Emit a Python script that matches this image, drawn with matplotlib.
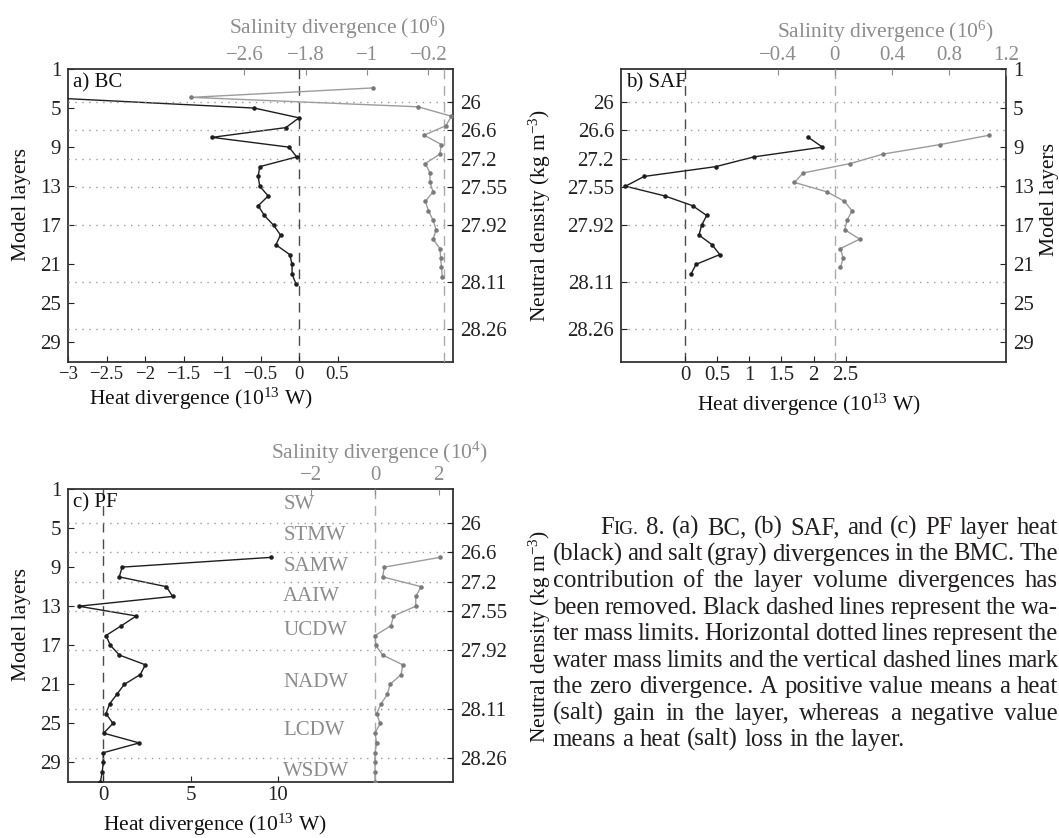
import matplotlib
matplotlib.use("Agg")
import matplotlib.pyplot as plt

plt.rcParams['font.family'] = ['Liberation Serif', 'DejaVu Serif']
plt.rcParams['mathtext.fontset'] = 'custom'
plt.rcParams['mathtext.rm'] = 'Liberation Serif'
plt.rcParams['mathtext.it'] = 'Liberation Serif:italic'
plt.rcParams['axes.unicode_minus'] = True

# ---------------- data ----------------
layer_ticks = [1, 5, 9, 13, 17, 21, 25, 29]
density_pos = [4.5, 7.5, 10.5, 13.5, 17.5, 23.5, 28.5]
density_labels = ['26', '26.6', '27.2', '27.55', '27.92', '28.11', '28.26']

# a) BC
bc_heat_layers = list(range(4, 24))
bc_heat = [-3.1, -0.58, 0.0, -0.17, -1.13, -0.13, -0.03, -0.51, -0.53, -0.51,
           -0.40, -0.53, -0.45, -0.33, -0.24, -0.30, -0.12, -0.09, -0.09, -0.04]
bc_salt_layers = list(range(3, 24))
bc_salt = [-0.92, -3.29, -0.335, 0.10, 0.026, -0.256, -0.03, -0.052, -0.24, -0.18,
           -0.18, -0.14, -0.24, -0.20, -0.14, -0.10, -0.14, -0.05, -0.04, -0.03, -0.02]

# b) SAF
saf_heat_layers = list(range(8, 23))
saf_heat = [1.92, 2.14, 1.07, 0.475, -0.64, -0.93, -0.315, 0.117, 0.335, 0.257,
            0.215, 0.42, 0.54, 0.17, 0.09]
saf_salt_layers = list(range(8, 23))
saf_salt = [1.084, 0.736, 0.338, 0.109, -0.223, -0.284, -0.055, 0.067, 0.12, 0.086,
            0.069, 0.174, 0.039, 0.058, 0.039]

# c) PF
pf_heat_layers = list(range(8, 32))
pf_heat = [9.6, 1.09, 0.93, 3.62, 3.98, -1.39, 1.90, 1.05, 0.17, 0.42, 0.93, 2.42,
           2.13, 1.22, 0.80, 0.38, 0.17, 0.57, 0.04, 2.07, 0.02, 0.02, -0.05, -0.15]
pf_salt_layers = list(range(8, 32))
pf_salt = [2.04, 0.29, 0.24, 1.45, 1.28, 1.28, 0.58, 0.50, 0.0, 0.02, 0.24, 0.87,
           0.82, 0.47, 0.39, 0.19, 0.05, 0.16, 0.0, 0.05, 0.0, 0.0, 0.0, 0.0]

water_masses = ['SW', 'STMW', 'SAMW', 'AAIW', 'UCDW', 'NADW', 'LCDW', 'WSDW']
water_mass_layer = [2.6, 5.8, 8.9, 12.0, 15.5, 20.8, 25.7, 29.9]

caption_lines = [
    "FIG. 8. (a) BC, (b) SAF, and (c) PF layer heat",
    "(black) and salt (gray) divergences in the BMC. The",
    "contribution of the layer volume divergences has",
    "been removed. Black dashed lines represent the wa-",
    "ter mass limits. Horizontal dotted lines represent the",
    "water mass limits and the vertical dashed lines mark",
    "the zero divergence. A positive value means a heat",
    "(salt) gain in the layer, whereas a negative value",
    "means a heat (salt) loss in the layer.",
]

# ---------------- figure ----------------
W, H = 1059, 838
fig = plt.figure(figsize=(W / 100, H / 100), dpi=100)

BLACK = '#1e1e1e'
GRAY = '#8c8c8c'
LINEGRAY = '#9c9c9c'
FS = 15


def rect_px(x0, y0, x1, y1):
    return [x0 / W, 1 - y1 / H, (x1 - x0) / W, (y1 - y0) / H]


def mk(v):
    s = ('%g' % v)
    return s.replace('-', '\u2212')


def panel(rect, hl, hv, sl, sv, hxlim, hticks, sxlim, sticks, sylim_bottom,
          layers_left, tag, heat_lab_xy, sal_lab_xy, sal_exp,
          ylab_layers_xy, ylab_dens_xy, xtick_fs=FS):
    ax = fig.add_axes(rect)
    ax2 = fig.add_axes(rect, frameon=False)
    ax.set_xlim(*hxlim)
    ax.set_ylim(31, 1)
    ax2.set_xlim(*sxlim)
    ax2.set_ylim(sylim_bottom, 1)

    for sp in ax.spines.values():
        sp.set_linewidth(1.3)
        sp.set_color('#333333')

    # heat axis
    ax.set_xticks(hticks)
    ax.set_xticklabels([mk(t) for t in hticks])
    ax.set_yticks(layer_ticks)
    ax.set_yticklabels([str(t) for t in layer_ticks])
    ax.tick_params(direction='in', length=4, width=0.8, labelsize=FS, pad=5,
                   colors='#222222')
    ax.tick_params(axis='x', pad=3, labelsize=xtick_fs)
    if not layers_left:
        ax.yaxis.tick_right()

    # salinity / density axis
    ax2.xaxis.tick_top()
    ax2.set_xticks(sticks)
    ax2.set_xticklabels([mk(t) for t in sticks])
    ax2.tick_params(axis='x', direction='in', length=4, width=0.8,
                    labelsize=FS, colors=GRAY, labelcolor=GRAY, pad=3)
    ax2.set_yticks(density_pos)
    ax2.set_yticklabels(density_labels)
    ax2.tick_params(axis='y', direction='in', length=4, width=0.8,
                    labelsize=FS, colors='#222222', pad=5)
    if layers_left:
        ax2.yaxis.tick_right()
    else:
        ax2.yaxis.tick_left()

    # reference lines
    for d in density_pos:
        ax2.axhline(d, color='#9a9a9a', ls=(0, (1, 4)), lw=1.0, zorder=1)
    ax.axvline(0, color='#4a4a4a', ls=(0, (7, 5)), lw=1.0, zorder=1)
    ax2.axvline(0, color='#aaaaaa', ls=(0, (7, 5)), lw=1.0, zorder=1)

    # data
    ax.plot(hv, hl, '-', color=BLACK, lw=1.0, marker='.', ms=4.5, zorder=3)
    ax2.plot(sv, sl, '-', color=LINEGRAY, lw=1.0, marker='.', ms=4.5,
             mec='#7a7a7a', mfc='#7a7a7a', zorder=3)

    # labels
    ax.text(0.013, 0.953, tag, transform=ax.transAxes, ha='left', va='center',
            fontsize=FS, color='#111111')
    ax.text(heat_lab_xy[0], heat_lab_xy[1], 'Heat divergence (10$^{13}$ W)',
            transform=ax.transAxes, ha='center', va='center', fontsize=FS + 0.5,
            color='#111111')
    ax.text(sal_lab_xy[0], sal_lab_xy[1],
            'Salinity divergence (10$^{%d}$)' % sal_exp,
            transform=ax.transAxes, ha='center', va='center', fontsize=FS + 0.5,
            color=GRAY)
    ax.text(ylab_layers_xy[0], ylab_layers_xy[1], 'Model layers',
            transform=ax.transAxes, ha='center', va='center', rotation=90,
            fontsize=FS + 0.5, color='#111111')
    if ylab_dens_xy is not None:
        ax.text(ylab_dens_xy[0], ylab_dens_xy[1], 'Neutral density (kg m$^{-3}$)',
                transform=ax.transAxes, ha='center', va='center', rotation=90,
                fontsize=FS + 0.5, color='#111111')
    return ax, ax2


# panel a
axa, axa2 = panel(rect_px(68, 69, 453, 362), bc_heat_layers, bc_heat,
                  bc_salt_layers, bc_salt, (-3, 2),
                  [-3, -2.5, -2, -1.5, -1, -0.5, 0, 0.5],
                  (-4.9, 0.12), [-2.6, -1.8, -1, -0.2], 32, True, 'a) BC',
                  (0.345, -0.127), (0.70, 1.14), 6, (-0.12, 0.536), None,
                  xtick_fs=13.5)

# panel b
axb, axb2 = panel(rect_px(621, 69, 1006, 362), saf_heat_layers, saf_heat,
                  saf_salt_layers, saf_salt, (-1, 5),
                  [0, 0.5, 1, 1.5, 2, 2.5],
                  (-1.5, 1.2), [-0.4, 0, 0.4, 0.8, 1.2], 32, False, 'b) SAF',
                  (0.488, -0.148), (0.688, 1.127), 6, (1.114, 0.553),
                  (-0.21, 0.50))

# panel c
axc, axc2 = panel(rect_px(68, 489, 453, 782), pf_heat_layers, pf_heat,
                  pf_salt_layers, pf_salt, (-2, 20), [0, 5, 10],
                  (-9.65, 2.45), [-2, 0, 2], 31, True, 'c) PF',
                  (0.382, -0.148), (0.81, 1.124), 4, (-0.12, 0.536),
                  (1.226, 0.496))
for name, lay in zip(water_masses, water_mass_layer):
    axc.text(10.3, lay, name, ha='left', va='center', fontsize=FS,
             color=GRAY)

# ---------------- caption (justified) ----------------
renderer = fig.canvas.get_renderer()
CFS = 17.8
CCOL = '#231f20'


def make_parts(word):
    if word == 'FIG.':
        parts = [('F', CFS), ('IG.', CFS * 0.78)]
    else:
        parts = [(word, CFS)]
    arts, widths = [], []
    for s, sz in parts:
        t = fig.text(0, 0, s, fontsize=sz, ha='left', va='baseline', color=CCOL)
        arts.append(t)
        widths.append(t.get_window_extent(renderer).width)
    return arts, widths


t1 = fig.text(0, 0, 'a a', fontsize=CFS)
t2 = fig.text(0, 0, 'aa', fontsize=CFS)
space_w = t1.get_window_extent(renderer).width - t2.get_window_extent(renderer).width
t1.remove()
t2.remove()

x_right = 1058
for i, line in enumerate(caption_lines):
    x_left = 600 if i == 0 else 552.7
    base_y = 534 + i * 26.5
    words = line.split(' ')
    built = [make_parts(w) for w in words]
    total = sum(sum(wd) for _, wd in built)
    if i < len(caption_lines) - 1 and len(words) > 1:
        gap = (x_right - x_left - total) / (len(words) - 1)
        gap = max(gap, space_w * 0.6)
    else:
        gap = space_w
    x = x_left
    for arts, widths in built:
        for a, wdt in zip(arts, widths):
            a.set_position((x / W, 1 - base_y / H))
            x += wdt
        x += gap

fig.savefig('out.png', dpi=100)
